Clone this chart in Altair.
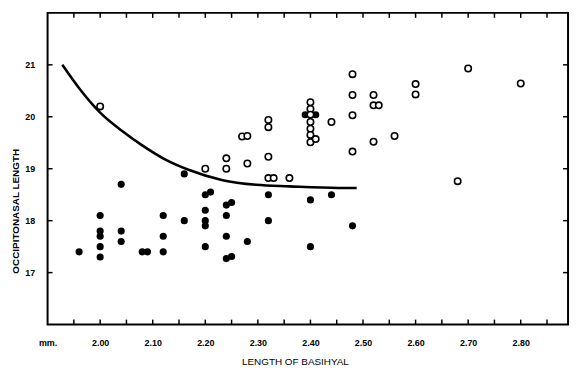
import altair as alt
import pandas as pd

# Filled circles
filled_x = [1.96, 2.00, 2.00, 2.00, 2.00, 2.00, 2.04, 2.04, 2.04, 2.08, 2.09,
            2.12, 2.12, 2.12, 2.16, 2.16, 2.20, 2.21, 2.20, 2.20, 2.20, 2.20,
            2.24, 2.25, 2.24, 2.24, 2.24, 2.25, 2.28, 2.32, 2.32, 2.39, 2.41,
            2.40, 2.40, 2.44, 2.48]
filled_y = [17.4, 18.1, 17.8, 17.7, 17.5, 17.3, 18.7, 17.8, 17.6, 17.4, 17.4,
            18.1, 17.7, 17.4, 18.9, 18.0, 18.5, 18.55, 18.2, 18.0, 17.9, 17.5,
            18.3, 18.35, 18.1, 17.7, 17.27, 17.31, 17.6, 18.5, 18.0, 20.04, 20.04,
            18.4, 17.5, 18.5, 17.9]

# Open circles
open_x = [2.00, 2.20, 2.24, 2.24, 2.27, 2.28, 2.28, 2.32, 2.32, 2.32, 2.32, 2.33,
          2.36, 2.40, 2.40, 2.40, 2.40, 2.40, 2.40, 2.40, 2.41, 2.44, 2.48, 2.48,
          2.48, 2.48, 2.52, 2.52, 2.53, 2.52, 2.56, 2.60, 2.60, 2.68, 2.70, 2.80]
open_y = [20.2, 19.0, 19.2, 19.0, 19.62, 19.63, 19.1, 19.94, 19.8, 19.23, 18.82, 18.82,
          18.82, 20.28, 20.15, 20.04, 19.9, 19.77, 19.65, 19.51, 19.57, 19.9, 20.82, 20.42,
          20.03, 19.33, 20.42, 20.22, 20.22, 19.52, 19.63, 20.63, 20.43, 18.76, 20.93, 20.64]

# Dividing curve
curve_x = [1.928, 1.96, 2.00, 2.04, 2.08, 2.127, 2.168, 2.233, 2.297, 2.36, 2.453, 2.488]
curve_y = [21.0, 20.55, 20.08, 19.74, 19.45, 19.16, 18.98, 18.78, 18.69, 18.66, 18.63, 18.63]

# Axis ticks / labels
x_tick_values = [1.95, 2.00, 2.05, 2.10, 2.15, 2.20, 2.25, 2.30, 2.35, 2.40,
                 2.45, 2.50, 2.55, 2.60, 2.65, 2.70, 2.75, 2.80, 2.85]
x_label_values = [1.90, 2.00, 2.10, 2.20, 2.30, 2.40, 2.50, 2.60, 2.70, 2.80]
y_tick_values = [17, 18, 19, 20, 21]

W, H = 526, 315
FONT = "Liberation Sans"

xscale = alt.Scale(domain=[1.90, 2.89], nice=False, zero=False)
yscale = alt.Scale(domain=[16, 22], nice=False, zero=False)

xaxis = alt.Axis(values=x_label_values, ticks=False, domain=False, grid=False,
                 labelFlush=False, labelOverlap=False,
                 labelExpr="datum.value < 1.95 ? 'mm.' : format(datum.value, '.2f')",
                 labelFont=FONT, labelFontSize=9, labelFontWeight="bold",
                 labelColor="black", labelPadding=14,
                 title="LENGTH OF BASIHYAL", titleFont=FONT, titleFontSize=10,
                 titleFontWeight="normal", titleColor="black", titlePadding=9,
                 titleX=250)
yaxis = alt.Axis(values=y_tick_values, ticks=False, domain=False, grid=False,
                 labelFlush=False,
                 labelFont=FONT, labelFontSize=9, labelFontWeight="bold",
                 labelColor="black", labelPadding=13,
                 title="OCCIPITONASAL LENGTH", titleFont=FONT, titleFontSize=10,
                 titleFontWeight="bold", titleColor="black",
                 titleX=-27, titleY=200)


def X(field):
    return alt.X(field, type="quantitative", scale=xscale, axis=xaxis)


def Y(field):
    return alt.Y(field, type="quantitative", scale=yscale, axis=yaxis)


filled_df = pd.DataFrame({"x": filled_x, "y": filled_y})
open_df = pd.DataFrame({"x": open_x, "y": open_y})
curve_df = pd.DataFrame({"x": curve_x, "y": curve_y})
xt_df = pd.DataFrame({"x": x_tick_values})
yt_df = pd.DataFrame({"y": y_tick_values})

filled = alt.Chart(filled_df).mark_circle(color="black", size=52, opacity=1).encode(
    x=X("x"), y=Y("y"))
opened = alt.Chart(open_df).mark_point(shape="circle", color="black", fill="white",
                                       filled=False, size=42, strokeWidth=1.6,
                                       opacity=1, fillOpacity=1).encode(
    x=X("x"), y=Y("y"))
curve = alt.Chart(curve_df).mark_line(color="black", strokeWidth=2.6,
                                      interpolate="monotone").encode(
    x=X("x"), y=Y("y"))

bottom_ticks = alt.Chart(xt_df).mark_rule(color="black", strokeWidth=1.5).encode(
    x=X("x"), y=alt.value(H), y2=alt.value(H - 5))
top_ticks = alt.Chart(xt_df).mark_rule(color="black", strokeWidth=1.5).encode(
    x=X("x"), y=alt.value(0), y2=alt.value(5))
left_ticks = alt.Chart(yt_df).mark_rule(color="black", strokeWidth=1.5).encode(
    y=Y("y"), x=alt.value(0), x2=alt.value(5))
right_ticks = alt.Chart(yt_df).mark_rule(color="black", strokeWidth=1.5).encode(
    y=Y("y"), x=alt.value(W), x2=alt.value(W - 5))

chart = alt.layer(bottom_ticks, top_ticks, left_ticks, right_ticks,
                  filled, opened, curve).properties(
    width=W, height=H,
    autosize=alt.AutoSizeParams(type="none"),
    padding={"left": 40, "top": 3, "right": 4, "bottom": 46},
    background="white",
).configure_view(stroke="black", strokeWidth=2)

chart.save("out.html", embed_options={"renderer": "svg", "actions": False})
